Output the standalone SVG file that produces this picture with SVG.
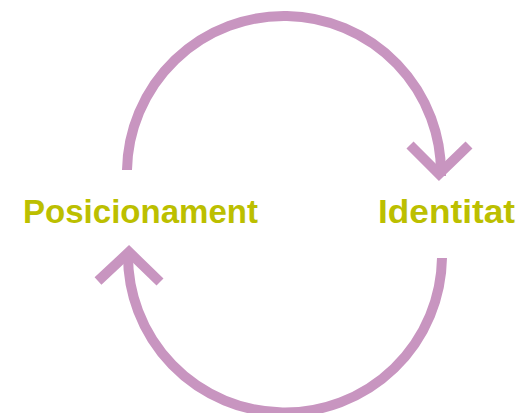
<svg xmlns="http://www.w3.org/2000/svg" width="521" height="413" viewBox="0 0 521 413">
<style>
.lbl{font-family:"Liberation Sans",Arial,sans-serif;font-weight:bold;font-size:34px;fill:#bcbf00}
.arc{fill:none;stroke:#c895c0;stroke-width:10}
</style>
<rect width="521" height="413" fill="#fff"/>
<g id="posicionament"><text class="lbl" x="23" y="223" textLength="235" lengthAdjust="spacingAndGlyphs">Posicionament</text></g>
<g id="identitat"><text class="lbl" x="378" y="223" textLength="137" lengthAdjust="spacingAndGlyphs">Identitat</text></g>
<g id="connectors">
<path class="arc" d="M127 170 A157 157 0 0 1 441 176"/>
<polyline class="arc" points="410,145 439,174 469,145"/>
<path class="arc" d="M442 258 A157 157 0 0 1 128 253"/>
<polyline class="arc" points="98,281 129,252 160,282"/>
</g>
</svg>
